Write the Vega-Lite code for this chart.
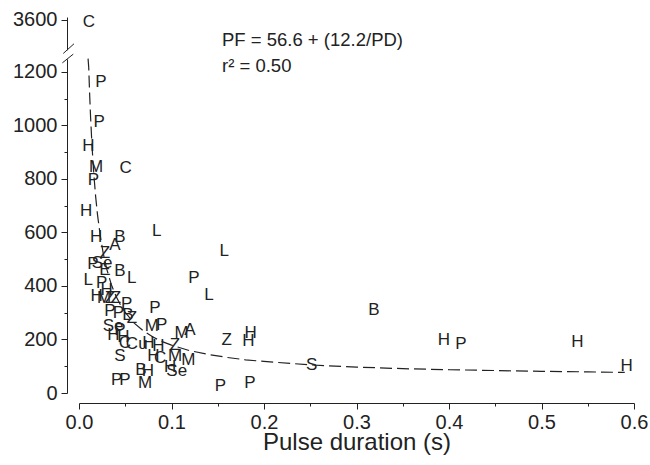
{
  "$schema": "https://vega.github.io/schema/vega-lite/v6.json",
  "autosize": "none",
  "width": 555,
  "height": 376,
  "padding": {"left": 79, "top": 17, "right": 16, "bottom": 72},
  "background": "white",
  "config": {
    "view": {"stroke": null},
    "font": "Liberation Sans",
    "axis": {"grid": false, "domainColor": "#222", "tickColor": "#222", "labelColor": "#222", "titleColor": "#222", "labelFont": "Liberation Sans", "titleFont": "Liberation Sans", "labelFontSize": 20, "titleFontSize": 24, "titleFontWeight": "normal", "domainWidth": 1, "tickWidth": 1, "labelOverlap": false, "labelFlush": false, "labelBound": false, "tickCount": 30}
  },
  "datasets": {
    "points": [
      {"pd": 0.0108, "pf": 3590, "g": "C"},
      {"pd": 0.0238, "pf": 1161, "g": "P"},
      {"pd": 0.0219, "pf": 1012, "g": "P"},
      {"pd": 0.0101, "pf": 925, "g": "H"},
      {"pd": 0.0184, "pf": 845, "g": "M"},
      {"pd": 0.0155, "pf": 797, "g": "P"},
      {"pd": 0.0076, "pf": 679, "g": "H"},
      {"pd": 0.0184, "pf": 585, "g": "H"},
      {"pd": 0.0505, "pf": 841, "g": "C"},
      {"pd": 0.084, "pf": 604, "g": "L"},
      {"pd": 0.0443, "pf": 582, "g": "B"},
      {"pd": 0.0389, "pf": 554, "g": "A"},
      {"pd": 0.0281, "pf": 523, "g": "Z"},
      {"pd": 0.0249, "pf": 487, "g": "Se"},
      {"pd": 0.0151, "pf": 483, "g": "P"},
      {"pd": 0.0281, "pf": 461, "g": "E"},
      {"pd": 0.0443, "pf": 455, "g": "B"},
      {"pd": 0.057, "pf": 430, "g": "L"},
      {"pd": 0.0101, "pf": 424, "g": "L"},
      {"pd": 0.0245, "pf": 413, "g": "P"},
      {"pd": 0.03, "pf": 386, "g": "H"},
      {"pd": 0.0191, "pf": 361, "g": "H"},
      {"pd": 0.027, "pf": 356, "g": "M"},
      {"pd": 0.0335, "pf": 356, "g": "Z"},
      {"pd": 0.04, "pf": 356, "g": "Z"},
      {"pd": 0.0516, "pf": 333, "g": "P"},
      {"pd": 0.0335, "pf": 305, "g": "P"},
      {"pd": 0.0425, "pf": 299, "g": "P"},
      {"pd": 0.053, "pf": 293, "g": "B"},
      {"pd": 0.0573, "pf": 281, "g": "Z"},
      {"pd": 0.0368, "pf": 251, "g": "Se"},
      {"pd": 0.0371, "pf": 218, "g": "H"},
      {"pd": 0.0479, "pf": 210, "g": "H"},
      {"pd": 0.0443, "pf": 237, "g": "P"},
      {"pd": 0.0497, "pf": 186, "g": "C"},
      {"pd": 0.0624, "pf": 184, "g": "Cu"},
      {"pd": 0.0749, "pf": 186, "g": "H"},
      {"pd": 0.0857, "pf": 174, "g": "H"},
      {"pd": 0.1038, "pf": 181, "g": "Z"},
      {"pd": 0.0786, "pf": 249, "g": "M"},
      {"pd": 0.0894, "pf": 255, "g": "P"},
      {"pd": 0.0822, "pf": 318, "g": "P"},
      {"pd": 0.111, "pf": 224, "g": "M"},
      {"pd": 0.12, "pf": 237, "g": "A"},
      {"pd": 0.0803, "pf": 139, "g": "H"},
      {"pd": 0.0876, "pf": 131, "g": "C"},
      {"pd": 0.1038, "pf": 137, "g": "M"},
      {"pd": 0.1182, "pf": 124, "g": "M"},
      {"pd": 0.0984, "pf": 99, "g": "H"},
      {"pd": 0.0443, "pf": 137, "g": "S"},
      {"pd": 0.067, "pf": 87, "g": "B"},
      {"pd": 0.0746, "pf": 83, "g": "H"},
      {"pd": 0.1056, "pf": 81, "g": "Se"},
      {"pd": 0.0408, "pf": 50, "g": "P"},
      {"pd": 0.0497, "pf": 47, "g": "P"},
      {"pd": 0.0714, "pf": 37, "g": "M"},
      {"pd": 0.157, "pf": 529, "g": "L"},
      {"pd": 0.1243, "pf": 430, "g": "P"},
      {"pd": 0.1405, "pf": 367, "g": "L"},
      {"pd": 0.3189, "pf": 311, "g": "B"},
      {"pd": 0.1597, "pf": 199, "g": "Z"},
      {"pd": 0.1856, "pf": 224, "g": "H"},
      {"pd": 0.183, "pf": 193, "g": "H"},
      {"pd": 0.2516, "pf": 103, "g": "S"},
      {"pd": 0.3946, "pf": 199, "g": "H"},
      {"pd": 0.413, "pf": 184, "g": "P"},
      {"pd": 0.5387, "pf": 190, "g": "H"},
      {"pd": 0.592, "pf": 102, "g": "H"},
      {"pd": 0.153, "pf": 27, "g": "P"},
      {"pd": 0.1849, "pf": 37, "g": "P"}
    ],
    "curve": [
      {"pd": 0.0098, "pf": 1250},
      {"pd": 0.0105, "pf": 1218},
      {"pd": 0.0115, "pf": 1118},
      {"pd": 0.0125, "pf": 1033},
      {"pd": 0.014, "pf": 928},
      {"pd": 0.016, "pf": 819},
      {"pd": 0.018, "pf": 734},
      {"pd": 0.02, "pf": 667},
      {"pd": 0.023, "pf": 587},
      {"pd": 0.026, "pf": 526},
      {"pd": 0.03, "pf": 463},
      {"pd": 0.035, "pf": 405},
      {"pd": 0.04, "pf": 362},
      {"pd": 0.045, "pf": 328},
      {"pd": 0.05, "pf": 301},
      {"pd": 0.06, "pf": 260},
      {"pd": 0.07, "pf": 231},
      {"pd": 0.08, "pf": 209},
      {"pd": 0.09, "pf": 192},
      {"pd": 0.1, "pf": 179},
      {"pd": 0.12, "pf": 158},
      {"pd": 0.14, "pf": 144},
      {"pd": 0.16, "pf": 133},
      {"pd": 0.18, "pf": 124},
      {"pd": 0.2, "pf": 118},
      {"pd": 0.25, "pf": 105},
      {"pd": 0.3, "pf": 97},
      {"pd": 0.35, "pf": 91},
      {"pd": 0.4, "pf": 87},
      {"pd": 0.45, "pf": 84},
      {"pd": 0.5, "pf": 81},
      {"pd": 0.55, "pf": 79},
      {"pd": 0.59, "pf": 77}
    ]
  },
  "layer": [
    {
      "data": {"name": "points"},
      "mark": {"type": "text", "font": "Liberation Sans", "fontSize": 17, "color": "#222", "align": "center", "baseline": "middle"},
      "encoding": {
        "x": {
          "field": "pd", "type": "quantitative",
          "scale": {"domain": [0, 0.6], "nice": false, "zero": false},
          "axis": {
            "title": "Pulse duration (s)",
            "offset": 10,
            "tickCount": 30,
            "values": [0, 0.05, 0.1, 0.15, 0.2, 0.25, 0.3, 0.35, 0.4, 0.45, 0.5, 0.55, 0.6],
            "labelExpr": "round(datum.value*100) % 10 === 0 ? format(datum.value, '.1f') : ''",
            "tickSize": {"condition": {"test": "round(datum.value*100) % 10 !== 0", "value": 3}, "value": 6},
            "labelPadding": 3,
            "titlePadding": -2,
            "labelFlush": false,
            "labelOverlap": false
          }
        },
        "y": {
          "field": "pf", "type": "quantitative",
          "scale": {"domain": [0, 1250, 3550, 3610], "range": [376, 41.6, 15.4, 0], "nice": false, "zero": false},
          "axis": {
            "title": null,
            "offset": 12,
            "format": "d",
            "tickCount": 30,
            "values": [0, 100, 200, 300, 400, 500, 600, 700, 800, 900, 1000, 1100, 1200, 3600],
            "labelExpr": "datum.value % 200 === 0 ? datum.label : ''",
            "tickSize": {"condition": {"test": "datum.value % 200 !== 0", "value": 3}, "value": 6},
            "labelPadding": 4,
            "labelFlush": false,
            "labelOverlap": false
          }
        },
        "text": {"field": "g"}
      }
    },
    {
      "data": {"name": "curve"},
      "mark": {"type": "line", "color": "#222", "strokeWidth": 1.2, "strokeDash": [12, 5]},
      "encoding": {
        "x": {"field": "pd", "type": "quantitative"},
        "y": {"field": "pf", "type": "quantitative"}
      }
    },
    {
      "data": {"values": [{"k": 1}]},
      "mark": {"type": "rect", "color": "white"},
      "encoding": {
        "x": {"datum": -0.0165, "type": "quantitative"},
        "x2": {"datum": -0.0095},
        "y": {"datum": 1247, "type": "quantitative"},
        "y2": {"datum": 1982}
      }
    },
    {
      "data": {"values": [{"k": 1}]},
      "mark": {"type": "rule", "color": "#222", "strokeWidth": 1},
      "encoding": {
        "x": {"datum": -0.017, "type": "quantitative"},
        "x2": {"datum": -0.0054},
        "y": {"datum": 1701, "type": "quantitative"},
        "y2": {"datum": 2553}
      }
    },
    {
      "data": {"values": [{"k": 1}]},
      "mark": {"type": "rule", "color": "#222", "strokeWidth": 1},
      "encoding": {
        "x": {"datum": -0.018, "type": "quantitative"},
        "x2": {"datum": -0.0062},
        "y": {"datum": 1234, "type": "quantitative"},
        "y2": {"datum": 1642}
      }
    },
    {
      "data": {"values": [{"k": 1}]},
      "mark": {"type": "text", "font": "Liberation Sans", "fontSize": 18.5, "color": "#222", "align": "left", "baseline": "middle"},
      "encoding": {
        "x": {"datum": 0.1546, "type": "quantitative"},
        "y": {"datum": 2883, "type": "quantitative"},
        "text": {"value": "PF = 56.6 + (12.2/PD)"}
      }
    },
    {
      "data": {"values": [{"k": 1}]},
      "mark": {"type": "text", "font": "Liberation Sans", "fontSize": 18.5, "color": "#222", "align": "left", "baseline": "middle"},
      "encoding": {
        "x": {"datum": 0.1546, "type": "quantitative"},
        "y": {"datum": 1222, "type": "quantitative"},
        "text": {"value": "r² = 0.50"}
      }
    }
  ]
}
